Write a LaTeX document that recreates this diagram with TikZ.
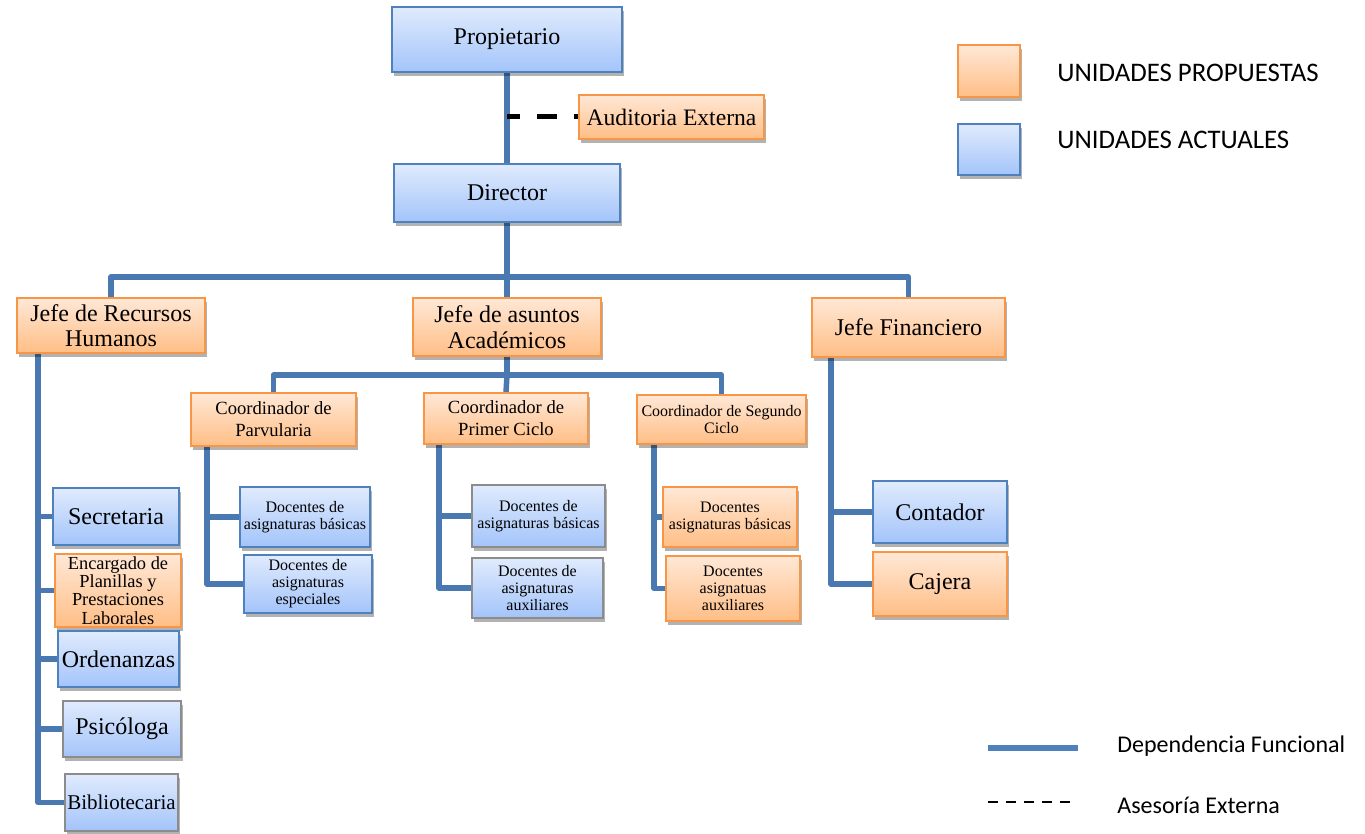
\documentclass[tikz,border=0pt]{standalone}
\usepackage{fontspec}
\setmainfont{Liberation Serif}
\newfontfamily\legfont{Carlito}
\usetikzlibrary{shadows,backgrounds}
\definecolor{connblue}{RGB}{74,120,176}
\definecolor{legblue}{RGB}{79,129,189}
\definecolor{obord}{RGB}{247,150,70}
\definecolor{otop}{RGB}{255,232,214}
\definecolor{obot}{RGB}{255,190,134}
\definecolor{bbord}{RGB}{79,129,189}
\definecolor{btop}{RGB}{224,235,253}
\definecolor{bbot}{RGB}{163,196,250}
\definecolor{gbord}{RGB}{140,140,140}
\tikzset{
  unit/.style={draw, line width=1pt, inner sep=1pt, align=center,
    drop shadow={shadow xshift=1.2pt, shadow yshift=-1.8pt, opacity=0.3, fill=black}},
  obox/.style={unit, draw=obord, top color=otop, bottom color=obot},
  bbox/.style={unit, draw=bbord, top color=btop, bottom color=bbot},
  gbox/.style={bbox, draw=gbord},
  conn/.style={draw=connblue, line width=2.75pt, line join=round, line cap=round},
  adv/.style={draw=black, line width=2.5pt, dash pattern=on 10pt off 8.5pt, dash phase=8pt},
  bigtxt/.style={font=\fontsize{12}{12.8}\selectfont},
  coordtxt/.style={font=\fontsize{9.3}{11}\selectfont},
  smalltxt/.style={font=\fontsize{8}{8.5}\selectfont},
  legtxt/.style={anchor=west, inner sep=0pt, font=\legfont\fontsize{13.4}{15}\selectfont},
}
\begin{document}
\begin{tikzpicture}[x=0.5pt,y=-0.5pt]
\useasboundingbox (0,0) rectangle (1365,834);

% top
\node[bbox, bigtxt, minimum width=115pt, minimum height=32.5pt] (prop) at (507,39.5) {Propietario};
\node[obox, font=\fontsize{11.8}{12.5}\selectfont, inner sep=0pt, minimum width=92.5pt, minimum height=22pt] (aud) at (671.5,117) {Auditoria Externa};
\node[bbox, bigtxt, minimum width=113pt, minimum height=29pt] (dir) at (507,193) {Director};

% jefes
\node[obox, bigtxt, minimum width=94pt, minimum height=27.5pt] (jrh) at (111,325.5) {Jefe de Recursos\\Humanos};
\node[obox, bigtxt, minimum width=94pt, minimum height=29pt] (jaa) at (507,327) {Jefe de asuntos\\Académicos};
\node[obox, bigtxt, minimum width=96.5pt, minimum height=29.5pt] (jf) at (908.5,327.5) {Jefe Financiero};

% coordinadores
\node[obox, coordtxt, minimum width=82.5pt, minimum height=26.5pt] (cp) at (273.5,419.5) {Coordinador de\\Parvularia};
\node[obox, coordtxt, minimum width=82pt, minimum height=25.5pt] (cpc) at (506,418.5) {Coordinador de\\Primer Ciclo};
\node[obox, smalltxt, minimum width=84.5pt, minimum height=24.5pt] (csc) at (721.5,419.5) {Coordinador de Segundo\\Ciclo};

% docentes
\node[bbox, smalltxt, minimum width=65pt, minimum height=30pt] (d1a) at (305,517) {Docentes de\\asignaturas básicas};
\node[bbox, smalltxt, minimum width=64pt, minimum height=29pt] (d1b) at (308,584) {Docentes de\\asignaturas\\especiales};
\node[gbox, smalltxt, minimum width=66.5pt, minimum height=31pt] (d2a) at (538.5,516) {Docentes de\\asignaturas básicas};
\node[gbox, smalltxt, minimum width=65.5pt, minimum height=30pt] (d2b) at (537.5,588) {Docentes de\\asignaturas\\auxiliares};
\node[obox, smalltxt, minimum width=67pt, minimum height=30pt] (d3a) at (730,517) {Docentes\\asignaturas básicas};
\node[obox, smalltxt, minimum width=67pt, minimum height=32.5pt] (d3b) at (733,588.5) {Docentes\\asignatuas\\auxiliares};

% RRHH
\node[bbox, bigtxt, minimum width=63pt, minimum height=28.5pt] (sec) at (116,516.5) {Secretaria};
\node[obox, font=\fontsize{9.2}{9.2}\selectfont, inner sep=0pt, minimum width=63pt, minimum height=36.5pt] (enc) at (118,590.5) {Encargado de\\Planillas y\\Prestaciones\\Laborales};
\node[bbox, bigtxt, minimum width=60.5pt, minimum height=28pt] (ord) at (118.5,659) {Ordenanzas};
\node[gbox, bigtxt, minimum width=59pt, minimum height=28pt] (psi) at (122,729) {Psicóloga};
\node[gbox, font=\fontsize{10.5}{12}\selectfont, inner sep=0pt, minimum width=56.5pt, minimum height=28.5pt] (bib) at (121.5,802.5) {Bibliotecaria};

% finanzas
\node[bbox, bigtxt, minimum width=67pt, minimum height=31pt] (cont) at (940,512) {Contador};
\node[obox, bigtxt, minimum width=67pt, minimum height=32pt] (caj) at (940,584) {Cajera};

% legend
\node[obox, minimum width=31pt, minimum height=26pt] (legO) at (989,71) {};
\node[bbox, minimum width=31pt, minimum height=25.5pt] (legB) at (989,149.5) {};
\node[legtxt] (legOt) at (1057,73) {UNIDADES PROPUESTAS};
\node[legtxt] (legBt) at (1057,140) {UNIDADES ACTUALES};
\coordinate (lgA1) at (988,748);
\coordinate (lgA2) at (1078,748);
\coordinate (lgB1) at (988,802);
\coordinate (lgB2) at (1073,802);
\node[legtxt, font=\legfont\fontsize{12}{14}\selectfont] (legDt) at (1117,746) {Dependencia Funcional};
\node[legtxt, font=\legfont\fontsize{12}{14}\selectfont] (legAt) at (1117,805) {Asesoría Externa};

% junction coordinates
\coordinate (audj) at (507,117);
\coordinate (bus1) at (507,277);
\coordinate (bus2) at (507,375);
\coordinate (cpL) at ([xshift=8.5pt]cp.south west);
\coordinate (cpcL) at ([xshift=8pt]cpc.south west);
\coordinate (cscL) at ([xshift=9pt]csc.south west);
\coordinate (jrhL) at ([xshift=11pt]jrh.south west);
\coordinate (jfL) at ([xshift=10pt]jf.south west);

\begin{pgfonlayer}{background}
\draw[conn] (prop.south) -- (dir.north);
\draw[adv] (aud.west) -- (audj);
\draw[conn] (dir.south) -- (bus1);
\draw[conn] (jrh.north) -- (jrh.north|-bus1) -- (jf.north|-bus1) -- (jf.north);
\draw[conn] (bus1) -- (jaa.north);
\draw[conn] (jaa.south) -- (bus2);
\draw[conn] (cp.north) -- (cp.north|-bus2) -- (csc.north|-bus2) -- (csc.north);
\draw[conn] (bus2) -- (cpc.north);
\draw[conn] (cpL) |- (d1a.west);
\draw[conn] (cpL) |- (d1b.west);
\draw[conn] (cpcL) |- (d2a.west);
\draw[conn] (cpcL) |- (d2b.west);
\draw[conn] (cscL) |- (d3a.west);
\draw[conn] (cscL) |- (d3b.west);
\draw[conn] (jrhL) |- (sec.west);
\draw[conn] (jrhL) |- (enc.west);
\draw[conn] (jrhL) |- (ord.west);
\draw[conn] (jrhL) |- (psi.west);
\draw[conn] (jrhL) |- (bib.west);
\draw[conn] (jfL) |- (cont.west);
\draw[conn] (jfL) |- (caj.west);
\end{pgfonlayer}
\draw[draw=legblue, line width=3pt] (lgA1) -- (lgA2);
\draw[draw=black, line width=1.3pt, dash pattern=on 5pt off 4pt] (lgB1) -- (lgB2);
\end{tikzpicture}
\end{document}
